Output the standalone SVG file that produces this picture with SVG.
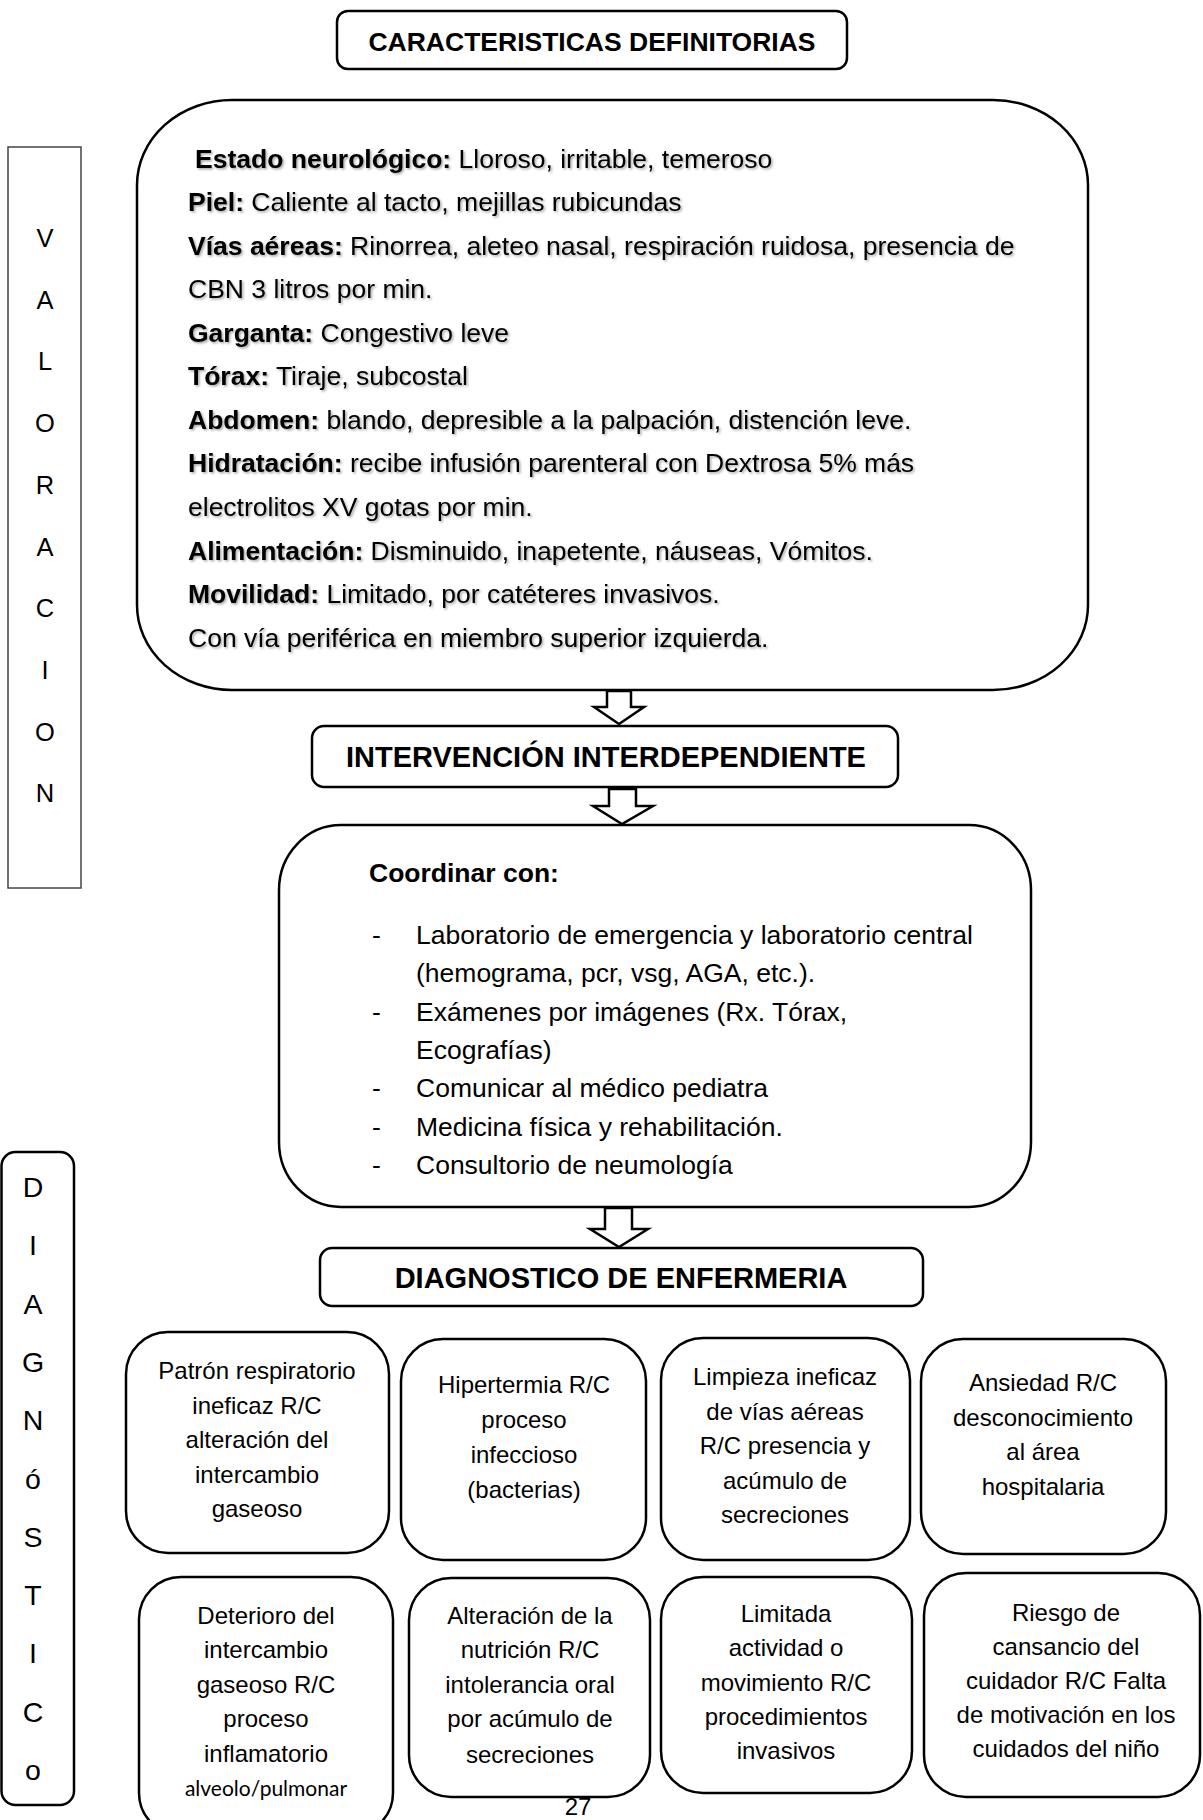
<svg xmlns="http://www.w3.org/2000/svg" width="1203" height="1820" viewBox="0 0 1203 1820">
<defs>
<style>
.box{fill:#fff;stroke:#000;stroke-width:2.5}
.side{fill:#fff;stroke:#444;stroke-width:1.5}
.t{font-family:"Liberation Sans",Arial,sans-serif;fill:#000}
.hd{font-size:29px;font-weight:bold;text-anchor:middle}
.main{font-size:26.5px}
.lst{font-size:26.5px}
.dx{font-size:24px;text-anchor:middle}
.vl{font-size:25.5px;text-anchor:middle}
.dg{font-size:28.5px;text-anchor:middle}
.arrow{fill:#fff;stroke:#000;stroke-width:2.5;stroke-linejoin:miter}
</style>
<filter id="sh" x="-5%" y="-20%" width="110%" height="140%">
<feDropShadow dx="1.5" dy="1.5" stdDeviation="0.8" flood-color="#000" flood-opacity="0.35"/>
</filter>
</defs>

<g id="title">
<rect class="box" x="337" y="11" width="510" height="58" rx="11"/>
<text class="t" x="592" y="51" font-size="26.5" font-weight="bold" text-anchor="middle">CARACTERISTICAS DEFINITORIAS</text>
</g>

<g id="valoracion">
<rect class="side" x="8" y="147" width="73" height="741"/>
<g class="t vl">
<text x="45" y="247">V</text>
<text x="45" y="308.7">A</text>
<text x="45" y="370.4">L</text>
<text x="45" y="432.1">O</text>
<text x="45" y="493.8">R</text>
<text x="45" y="555.5">A</text>
<text x="45" y="617.2">C</text>
<text x="45" y="678.9">I</text>
<text x="45" y="740.6">O</text>
<text x="45" y="802.3">N</text>
</g>
</g>

<g id="caracteristicas">
<rect class="box" x="137" y="100" width="951" height="590" rx="95" ry="85"/>
<g class="t main" filter="url(#sh)">
<text x="195" y="167.5"><tspan font-weight="bold">Estado neurológico:</tspan> Lloroso, irritable, temeroso</text>
<text x="188" y="211"><tspan font-weight="bold">Piel:</tspan> Caliente al tacto, mejillas rubicundas</text>
<text x="188" y="254.6"><tspan font-weight="bold">Vías aéreas:</tspan> Rinorrea, aleteo nasal, respiración ruidosa, presencia de</text>
<text x="188" y="298.2">CBN 3 litros por min.</text>
<text x="188" y="341.7"><tspan font-weight="bold">Garganta:</tspan> Congestivo leve</text>
<text x="188" y="385.3"><tspan font-weight="bold">Tórax:</tspan> Tiraje, subcostal</text>
<text x="188" y="428.8"><tspan font-weight="bold">Abdomen:</tspan> blando, depresible a la palpación, distención leve.</text>
<text x="188" y="472.4"><tspan font-weight="bold">Hidratación:</tspan> recibe infusión parenteral con Dextrosa 5% más</text>
<text x="188" y="515.9">electrolitos XV gotas por min.</text>
<text x="188" y="559.5"><tspan font-weight="bold">Alimentación:</tspan> Disminuido, inapetente, náuseas, Vómitos.</text>
<text x="188" y="603"><tspan font-weight="bold">Movilidad:</tspan> Limitado, por catéteres invasivos.</text>
<text x="188" y="646.6">Con vía periférica en miembro superior izquierda.</text>
</g>
</g>

<g id="intervencion">
<rect class="box" x="312" y="726" width="586" height="61" rx="12"/>
<text class="t hd" x="606" y="767">INTERVENCIÓN INTERDEPENDIENTE</text>
</g>

<g id="coordinar">
<rect class="box" x="279" y="825" width="752" height="382" rx="62" ry="65"/>
<g class="t lst">
<text x="369" y="882" font-weight="bold">Coordinar con:</text>
<text x="372" y="944">-</text>
<text x="416" y="944">Laboratorio de emergencia y laboratorio central</text>
<text x="416" y="982.3">(hemograma, pcr, vsg, AGA, etc.).</text>
<text x="372" y="1020.6">-</text>
<text x="416" y="1020.6">Exámenes por imágenes (Rx. Tórax,</text>
<text x="416" y="1058.9">Ecografías)</text>
<text x="372" y="1097.2">-</text>
<text x="416" y="1097.2">Comunicar al médico pediatra</text>
<text x="372" y="1135.5">-</text>
<text x="416" y="1135.5">Medicina física y rehabilitación.</text>
<text x="372" y="1173.8">-</text>
<text x="416" y="1173.8">Consultorio de neumología</text>
</g>
</g>

<g id="diagnostico-titulo">
<rect class="box" x="320" y="1248" width="603" height="58" rx="12"/>
<text class="t hd" x="621" y="1288">DIAGNOSTICO DE ENFERMERIA</text>
</g>

<g id="diagnostico-lado">
<rect class="box" x="1.5" y="1152" width="72.5" height="653" rx="14"/>
<g class="t dg">
<text x="33" y="1197">D</text>
<text x="33" y="1255.3">I</text>
<text x="33" y="1313.6">A</text>
<text x="33" y="1371.9">G</text>
<text x="33" y="1430.2">N</text>
<text x="33" y="1488.5">ó</text>
<text x="33" y="1546.8">S</text>
<text x="33" y="1605.1">T</text>
<text x="33" y="1663.4">I</text>
<text x="33" y="1721.7">C</text>
<text x="33" y="1780">o</text>
</g>
</g>

<g id="dx1">
<rect class="box" x="126" y="1332" width="263" height="221" rx="42"/>
<g class="t dx">
<text x="257" y="1379">Patrón respiratorio</text>
<text x="257" y="1413.5">ineficaz R/C</text>
<text x="257" y="1448">alteración del</text>
<text x="257" y="1482.5">intercambio</text>
<text x="257" y="1517">gaseoso</text>
</g>
</g>

<g id="dx2">
<rect class="box" x="401" y="1339" width="245" height="221" rx="42"/>
<g class="t dx">
<text x="524" y="1393">Hipertermia R/C</text>
<text x="524" y="1428">proceso</text>
<text x="524" y="1463">infeccioso</text>
<text x="524" y="1498">(bacterias)</text>
</g>
</g>

<g id="dx3">
<rect class="box" x="661" y="1338" width="249" height="222" rx="42"/>
<g class="t dx">
<text x="785" y="1385">Limpieza ineficaz</text>
<text x="785" y="1419.5">de vías aéreas</text>
<text x="785" y="1454">R/C presencia y</text>
<text x="785" y="1488.5">acúmulo de</text>
<text x="785" y="1523">secreciones</text>
</g>
</g>

<g id="dx4">
<rect class="box" x="921" y="1339" width="245" height="215" rx="42"/>
<g class="t dx">
<text x="1043" y="1391">Ansiedad R/C</text>
<text x="1043" y="1425.5">desconocimiento</text>
<text x="1043" y="1460">al área</text>
<text x="1043" y="1494.5">hospitalaria</text>
</g>
</g>

<g id="dx5">
<rect class="box" x="139" y="1577" width="254" height="258" rx="42"/>
<g class="t dx">
<text x="266" y="1623.5">Deterioro del</text>
<text x="266" y="1658">intercambio</text>
<text x="266" y="1692.5">gaseoso R/C</text>
<text x="266" y="1727">proceso</text>
<text x="266" y="1761.5">inflamatorio</text>
<text x="266" y="1796" font-family="Lato,'Open Sans',sans-serif" font-size="21">alveolo/pulmonar</text>
</g>
</g>

<g id="dx6">
<rect class="box" x="409" y="1578" width="241" height="219" rx="42"/>
<g class="t dx">
<text x="530" y="1623.5">Alteración de la</text>
<text x="530" y="1658">nutrición R/C</text>
<text x="530" y="1692.5">intolerancia oral</text>
<text x="530" y="1727">por acúmulo de</text>
<text x="530" y="1762.5">secreciones</text>
</g>
</g>

<g id="dx7">
<rect class="box" x="661" y="1577" width="251" height="216" rx="42"/>
<g class="t dx">
<text x="786" y="1621.5">Limitada</text>
<text x="786" y="1656">actividad o</text>
<text x="786" y="1690.5">movimiento R/C</text>
<text x="786" y="1725">procedimientos</text>
<text x="786" y="1759">invasivos</text>
</g>
</g>

<g id="dx8">
<rect class="box" x="924" y="1573" width="276" height="224" rx="42"/>
<g class="t dx">
<text x="1066" y="1620.5">Riesgo de</text>
<text x="1066" y="1654.5">cansancio del</text>
<text x="1066" y="1688.5">cuidador R/C Falta</text>
<text x="1066" y="1722.5">de motivación en los</text>
<text x="1066" y="1756.5">cuidados del niño</text>
</g>
</g>

<g id="connectors">
<path class="arrow" d="M607,691 L631,691 L631,707 L644,707 L619,724 L594,707 L607,707 Z"/>
<path class="arrow" d="M609,789 L636,789 L636,806 L653,806 L622,824 L593,806 L609,806 Z"/>
<path class="arrow" d="M605,1208 L632,1208 L632,1229 L648,1229 L619,1247 L590,1229 L605,1229 Z"/>
</g>

<text class="t" x="578" y="1815" font-size="24" text-anchor="middle">27</text>
</svg>
